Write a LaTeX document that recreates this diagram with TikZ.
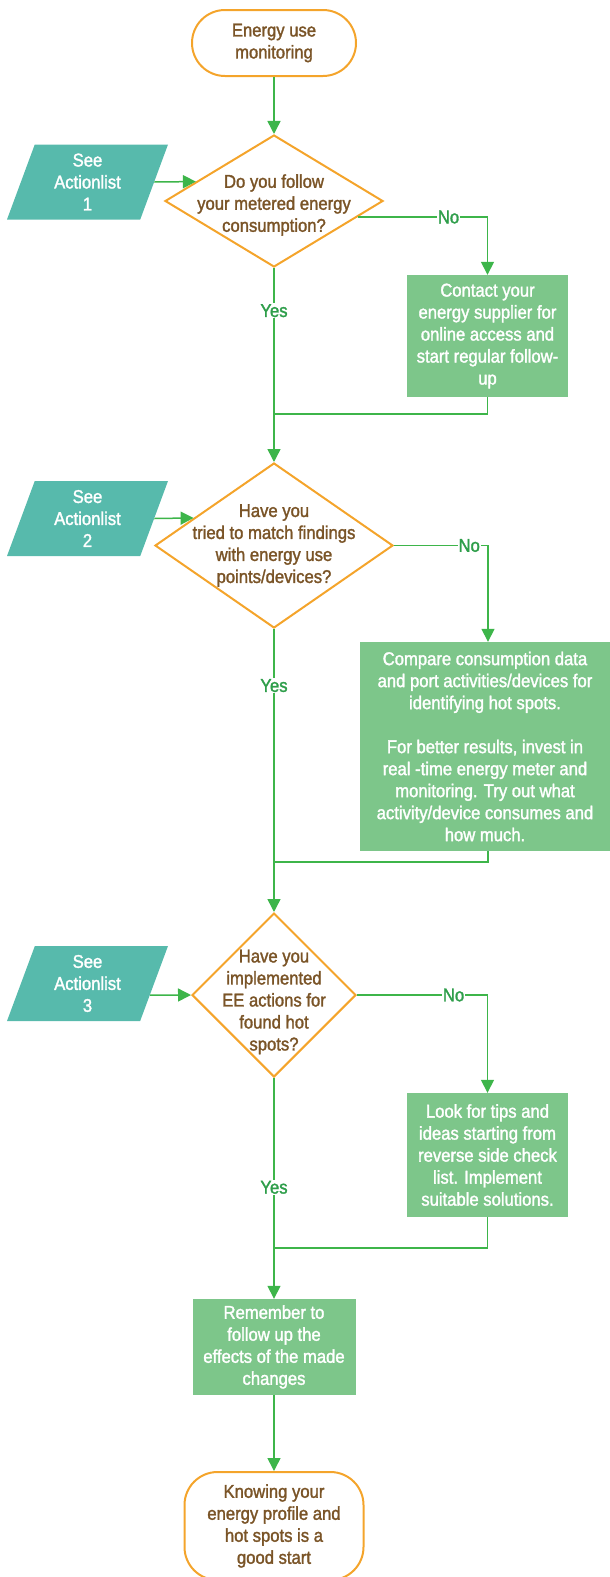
\documentclass[tikz,border=0pt]{standalone}
\usepackage{fontspec}
\setmainfont{Liberation Sans}[FakeStretch=0.9, FakeBold=1.6]
\usetikzlibrary{arrows.meta,shapes.geometric,calc}

\definecolor{lineGreen}{HTML}{3DB54A}
\definecolor{boxGreen}{HTML}{7DC68A}
\definecolor{paraTeal}{HTML}{57BAAC}
\definecolor{ringOrange}{HTML}{F4A42B}
\definecolor{textBrown}{HTML}{7A5427}
\definecolor{labelGreen}{HTML}{2E9E4A}

\begin{document}
\begin{tikzpicture}[x=1pt, y=-1pt,
    font=\fontsize{18.5}{22}\selectfont,
    term/.style={draw=ringOrange, line width=2pt, rounded corners=33pt, text=textBrown, align=center, inner sep=0pt},
    decision/.style={diamond, draw=ringOrange, line width=2pt, inner sep=0pt},
    dtext/.style={text=textBrown, align=center, inner sep=0pt},
    action/.style={fill=boxGreen, text=white, align=center, inner sep=0pt},
    seelist/.style={trapezium, trapezium left angle=64, trapezium right angle=116, trapezium stretches body,
        fill=paraTeal, text=white, align=center, inner sep=0pt, minimum width=161pt, minimum height=75pt},
    flow/.style={draw=lineGreen, line width=1.5pt},
    arr/.style={flow, -{Triangle[width=13pt,length=13pt]}},
    answer/.style={fill=white, text=labelGreen, inner sep=1pt}]

    \useasboundingbox (0,0) rectangle (610,1577);

    % nodes
    \node[term, minimum width=164pt, minimum height=66pt] (start) at (274,43) {Energy use\\monitoring};
    \node[decision, minimum width=218pt, minimum height=132pt,
        label={[dtext, yshift=-4pt]center:Do you follow\\your metered energy\\consumption?}] (d1) at (274,201) {};
    \node[seelist] (p1) at (87.5,182) {See\\Actionlist\\1};
    \node[action, minimum width=161pt, minimum height=122pt] (b1) at (487.5,336)
        {Contact your\\energy supplier for\\online access and\\start regular follow-\\up};

    \node[decision, minimum width=238pt, minimum height=165pt,
        label={[dtext]center:Have you\\tried to match findings\\with energy use\\points/devices?}] (d2) at (274,545.5) {};
    \node[seelist] (p2) at (87.5,518.5) {See\\Actionlist\\2};
    \node[action, minimum width=250pt, minimum height=209pt] (b2) at (485,746.5)
        {Compare consumption data\\and port activities/devices for\\identifying hot spots.\\[22pt]
         For better results, invest in\\real -time energy meter and\\monitoring. Try out what\\activity/device consumes and\\how much.};

    \node[decision, minimum width=164pt, minimum height=164pt,
        label={[dtext, yshift=-7pt]center:Have you\\implemented\\EE actions for\\found hot\\spots?}] (d3) at (274,995) {};
    \node[seelist] (p3) at (87.5,983.5) {See\\Actionlist\\3};
    \node[action, minimum width=161pt, minimum height=124pt] (b3) at (487.5,1155)
        {Look for tips and\\ideas starting from\\reverse side check\\list. Implement\\suitable solutions.};

    \node[action, minimum width=163pt, minimum height=96pt] (b4) at (274,1347)
        {Remember to\\follow up the\\effects of the made\\changes};
    \node[term, minimum width=179pt, minimum height=108pt] (end) at (274,1526)
        {Knowing your\\energy profile and\\hot spots is a\\good start};

    % joins
    \coordinate (j1) at (274,414);
    \coordinate (j2) at (274,862);
    \coordinate (j3) at (274,1248);

    % paths
    \draw[arr] (start) -- (d1); % start -> d1
    \draw[arr] (p1.right side) -- ($(d1.north)!0.71!(d1.west)$); % p1 -> d1
    \draw[arr] ($(d1.east)!0.24!(d1.south)$) -| node[answer, pos=0.35] {No} (b1); % d1 -> b1
    \draw[arr] (d1) -- node[answer, pos=0.22] {Yes} (d2); % d1 -> d2
    \draw[flow] (b1) |- (j1); % b1 -> main line

    \draw[arr] (p2.right side) -- ($(d2.north)!0.67!(d2.west)$); % p2 -> d2
    \draw[arr] (d2.east) -| node[answer, pos=0.4] {No} ($(b2.north)+(3,0)$); % d2 -> b2
    \draw[arr] (d2) -- node[answer, pos=0.2] {Yes} (d3); % d2 -> d3
    \draw[flow] ($(b2.south)+(3,0)$) |- (j2); % b2 -> main line

    \draw[arr] ($(p3.top right corner)!0.653!(p3.bottom right corner)$) -- (d3.west); % p3 -> d3
    \draw[arr] (d3.east) -| node[answer, pos=0.37] {No} (b3); % d3 -> b3
    \draw[arr] (d3) -- node[answer, pos=0.495] {Yes} (b4); % d3 -> b4
    \draw[flow] (b3) |- (j3); % b3 -> main line

    \draw[arr] (b4) -- (end); % b4 -> end

\end{tikzpicture}
\end{document}
